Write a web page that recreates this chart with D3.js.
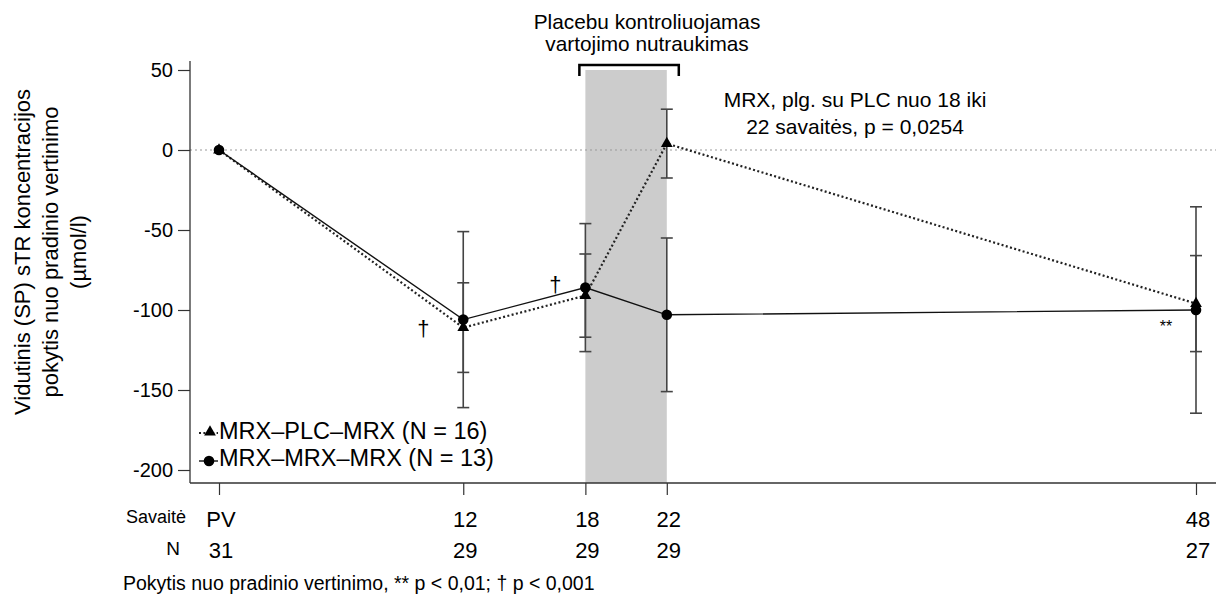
<!DOCTYPE html>
<html><head><meta charset="utf-8">
<script src="https://cdn.jsdelivr.net/npm/d3@7"></script>
<style>body{margin:0;background:#fff}svg{display:block;font-family:"Liberation Sans",Arial,sans-serif}</style>
</head><body>
<script>
const weeks = [0, 12, 18, 22, 48];
const weekLabels = ["PV", "12", "18", "22", "48"];
const nLabels = ["31", "29", "29", "29", "27"];
const yTicks = [50, 0, -50, -100, -150, -200];
const plcMean = [0, -111, -91, 4, -96];
const plcSD = [0, 28, 26, 21.5, 30];
const mrxMean = [0, -106, -86, -103, -100];
const mrxSD = [0, 55, 40, 48, 64.5];
const legendLabels = ["MRX\u2013PLC\u2013MRX (N = 16)", "MRX\u2013MRX\u2013MRX (N = 13)"];

const W = 1216, H = 597;
const svg = d3.select("body").append("svg").attr("width", W).attr("height", H);
const x = d3.scaleLinear().domain([0, 48]).range([219, 1196]);
const y = d3.scaleLinear().domain([-200, 50]).range([470, 70]);
const axisX = 190, axisY = 483;

// shaded discontinuation window
svg.append("rect").attr("x", x(18)).attr("width", x(22) - x(18))
  .attr("y", y(50)).attr("height", axisY - y(50)).attr("fill", "#cccccc");

// bracket
svg.append("path").attr("d", `M${x(18)-6},${y(50)+6} V${y(50)-5} H${x(22)+12} V${y(50)+6}`)
  .attr("fill", "none").attr("stroke", "#000").attr("stroke-width", 2.5);

// zero reference line
svg.append("line").attr("x1", axisX).attr("x2", W).attr("y1", y(0)).attr("y2", y(0))
  .attr("stroke", "#999").attr("stroke-width", 1).attr("stroke-dasharray", "2,3");

// y axis
const yAxis = d3.axisLeft(y).tickValues(yTicks).tickSize(12).tickPadding(5).tickFormat(d => String(d));
const gy = svg.append("g").attr("transform", `translate(${axisX},0)`).call(yAxis);
gy.select(".domain").remove();
gy.selectAll(".tick line").attr("stroke", "#333").attr("stroke-width", 1.2);
gy.selectAll(".tick text").attr("font-size", 20).attr("fill", "#000").attr("font-family", "Liberation Sans, Arial, sans-serif");
svg.append("line").attr("x1", axisX).attr("x2", axisX).attr("y1", 61).attr("y2", axisY).attr("stroke", "#333").attr("stroke-width", 1.3);

// x axis
const xAxis = d3.axisBottom(x).tickValues(weeks).tickSize(12).tickFormat("");
const gx = svg.append("g").attr("transform", `translate(0,${axisY})`).call(xAxis);
gx.select(".domain").remove();
gx.selectAll(".tick line").attr("stroke", "#333").attr("stroke-width", 1.2);
svg.append("line").attr("x1", axisX).attr("x2", W).attr("y1", axisY).attr("y2", axisY).attr("stroke", "#333").attr("stroke-width", 1.3);

svg.selectAll("text.wk").data(weeks).enter().append("text").attr("class", "wk")
  .attr("x", d => x(d) + 2).attr("y", 527).attr("text-anchor", "middle").attr("font-size", 22)
  .text((d, i) => weekLabels[i]);
svg.selectAll("text.nn").data(weeks).enter().append("text").attr("class", "nn")
  .attr("x", d => x(d) + 2).attr("y", 558).attr("text-anchor", "middle").attr("font-size", 22)
  .text((d, i) => nLabels[i]);
svg.append("text").attr("x", 186).attr("y", 523).attr("text-anchor", "end").attr("font-size", 18).text("Savaitė");
svg.append("text").attr("x", 180).attr("y", 555).attr("text-anchor", "end").attr("font-size", 19).text("N");
svg.append("text").attr("x", 123).attr("y", 590).attr("font-size", 19.5)
  .text("Pokytis nuo pradinio vertinimo, ** p < 0,01; \u2020 p < 0,001");

// y title
const yt = svg.append("text").attr("transform", "translate(0,252) rotate(-90)").attr("text-anchor", "middle").attr("font-size", 22);
["Vidutinis (SP) sTR koncentracijos", "pokytis nuo pradinio vertinimo", "(µmol/l)"].forEach((t, i) => {
  yt.append("tspan").attr("x", 0).attr("y", 30 + i * 28).text(t);
});

// annotations
svg.append("text").attr("x", 647).attr("y", 29).attr("text-anchor", "middle").attr("font-size", 20.8).text("Placebu kontroliuojamas");
svg.append("text").attr("x", 647).attr("y", 51).attr("text-anchor", "middle").attr("font-size", 20.8).text("vartojimo nutraukimas");
svg.append("text").attr("x", 855).attr("y", 107).attr("text-anchor", "middle").attr("font-size", 21).text("MRX, plg. su PLC nuo 18 iki");
svg.append("text").attr("x", 855).attr("y", 134).attr("text-anchor", "middle").attr("font-size", 21).text("22 savaitės, p = 0,0254");

// error bars
function errBars(mean, sd) {
  const g = svg.append("g").attr("stroke", "#444").attr("stroke-width", 1.6);
  weeks.forEach((w, i) => {
    if (sd[i] <= 0) return;
    const cx = x(w), y1 = y(mean[i] + sd[i]), y2 = y(mean[i] - sd[i]);
    g.append("line").attr("x1", cx).attr("x2", cx).attr("y1", y1).attr("y2", y2);
    g.append("line").attr("x1", cx - 6).attr("x2", cx + 6).attr("y1", y1).attr("y2", y1);
    g.append("line").attr("x1", cx - 6).attr("x2", cx + 6).attr("y1", y2).attr("y2", y2);
  });
}
errBars(mrxMean, mrxSD);
errBars(plcMean, plcSD);

const line = d3.line().x(d => x(d[0])).y(d => y(d[1]));
svg.append("path").datum(weeks.map((w, i) => [w, plcMean[i]])).attr("d", line)
  .attr("fill", "none").attr("stroke", "#222").attr("stroke-width", 2.2).attr("stroke-dasharray", "2,2.4");
svg.append("path").datum(weeks.map((w, i) => [w, mrxMean[i]])).attr("d", line)
  .attr("fill", "none").attr("stroke", "#111").attr("stroke-width", 1.4);

const tri = d3.symbol().type(d3.symbolTriangle).size(60);
svg.selectAll("path.tri").data(weeks).enter().append("path").attr("class", "tri")
  .attr("d", tri).attr("transform", (d, i) => `translate(${x(d)},${y(plcMean[i])})`).attr("fill", "#000");
svg.selectAll("circle.dot").data(weeks).enter().append("circle").attr("class", "dot")
  .attr("cx", d => x(d)).attr("cy", (d, i) => y(mrxMean[i])).attr("r", 5.3).attr("fill", "#000");

// significance marks
svg.append("text").attr("x", x(12) - 40).attr("y", y(plcMean[1]) + 8).attr("text-anchor", "middle").attr("font-size", 22).text("\u2020");
svg.append("text").attr("x", x(18) - 30).attr("y", y(mrxMean[2]) + 4).attr("text-anchor", "middle").attr("font-size", 22).text("\u2020");
svg.append("text").attr("x", x(48) - 30).attr("y", y(mrxMean[4]) + 22).attr("text-anchor", "middle").attr("font-size", 16).text("**");

// legend
svg.append("line").attr("x1", 199).attr("x2", 218).attr("y1", 433).attr("y2", 433)
  .attr("stroke", "#222").attr("stroke-width", 2).attr("stroke-dasharray", "2,2.4");
svg.append("path").attr("d", tri).attr("transform", "translate(210,432)").attr("fill", "#000");
svg.append("line").attr("x1", 199).attr("x2", 218).attr("y1", 461).attr("y2", 461)
  .attr("stroke", "#111").attr("stroke-width", 1.4);
svg.append("circle").attr("cx", 209).attr("cy", 461).attr("r", 5.3).attr("fill", "#000");
legendLabels.forEach((t, i) => {
  svg.append("text").attr("x", 219).attr("y", 439 + i * 27).attr("font-size", 23.5).text(t);
});
</script>
</body></html>
